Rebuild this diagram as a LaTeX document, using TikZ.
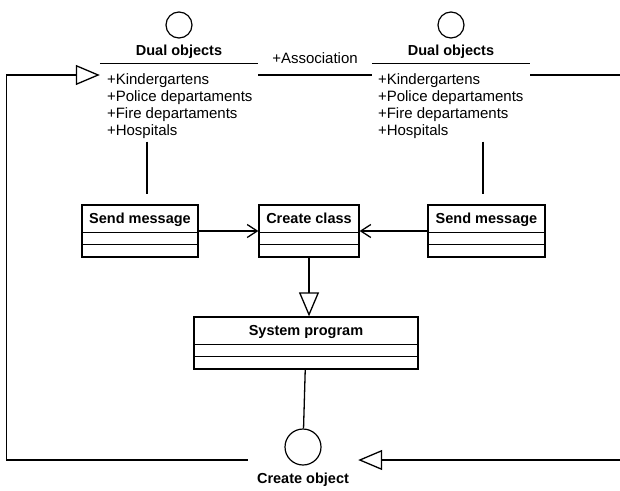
\documentclass[tikz,border=0pt]{standalone}
\usepackage{fontspec}
\setmainfont{Liberation Sans}
\usetikzlibrary{arrows.meta}

\tikzset{
  ln/.style={line width=1.3pt},
  thickln/.style={line width=2.6pt},
  actor/.style={draw, circle, line width=1.2pt, inner sep=0pt},
  classname/.style={font=\fontsize{14.5}{17}\selectfont\bfseries, inner sep=0pt},
  attrs/.style={font=\fontsize{15}{17}\selectfont, align=left, inner sep=0pt},
  classbox/.style={draw, line width=1.3pt, minimum height=52pt, inner sep=0pt},
  msg/.style={ln, -{Straight Barb[length=10pt, width=13pt]}},
  gen/.style={ln, -{Triangle[open, length=24pt, width=20pt, fill=white]}},
}

% class box: name, position, width, title
\newcommand\umlclass[4]{%
  \node[classbox, minimum width=#3] (#1) at (#2) {};
  \node[classname, anchor=base] (#1-name) at ([yshift=-19pt]#1.north) {#4};
  \draw[ln] ([yshift=-28pt]#1.north west) -- ([yshift=-28pt]#1.north east);
  \draw[ln] ([yshift=-40pt]#1.north west) -- ([yshift=-40pt]#1.north east);
}

\begin{document}
\begin{tikzpicture}[x=1pt, y=-1pt]
\clip (0,0) rectangle (620,490);

%% dual objects
\node[actor, minimum size=26pt] (lcirc) at (179,25) {};
\node[actor, minimum size=26pt] (rcirc) at (451,25) {};
\node[classname, anchor=base] (lname) at (179,55) {Dual objects};
\node[classname, anchor=base] (rname) at (451,55) {Dual objects};
\node[minimum width=158pt, minimum height=22pt, inner sep=0pt] (ldual) at (179,75) {};
\node[minimum width=158pt, minimum height=22pt, inner sep=0pt] (rdual) at (451,75) {};
\draw[ln] (ldual.north west) -- (ldual.north east);
\draw[ln] (rdual.north west) -- (rdual.north east);
\node[attrs, anchor=north west] (lattr) at ([shift={(7,9.5)}]ldual.north west)
  {+Kindergartens\\+Police departaments\\+Fire departaments\\+Hospitals};
\node[attrs, anchor=north west] (rattr) at ([shift={(6,9.5)}]rdual.north west)
  {+Kindergartens\\+Police departaments\\+Fire departaments\\+Hospitals};

%% classes
\umlclass{lsend}{140,231}{116pt}{Send message}
\umlclass{cclass}{309,231}{100pt}{Create class}
\umlclass{rsend}{486.5,231}{117pt}{Send message}
\umlclass{sysprog}{306,343}{224pt}{System program}

%% create object
\node[actor, minimum size=36pt] (cobj) at (303,447) {};
\node[classname, anchor=base] (cname) at (303,483) {Create object};
\node[minimum width=110pt, inner sep=0pt] (cport) at (303,460) {};

%%% edges
\draw[ln] (ldual.east) -- (rdual.west)
  node[midway, attrs, anchor=base, yshift=12pt] (assoc) {+Association};

\draw[thickln, shorten <=3pt, shorten >=10pt] ([xshift=7pt]lsend.north |- lattr.south) -- ([xshift=7pt]lsend.north);
\draw[thickln, shorten <=3pt, shorten >=10pt] ([xshift=-3.5pt]rsend.north |- rattr.south) -- ([xshift=-3.5pt]rsend.north);

\draw[msg] (lsend) -- (cclass);
\draw[msg] (rsend) -- (cclass);
\draw[gen] (cclass) -- (cclass |- sysprog.north);
\draw[ln] (sysprog) -- (cobj);

\draw[gen] (cport.west) -| ([xshift=-93pt]ldual.west) -- (ldual.west);
\draw[gen] (rdual.east) -- ++(92,0) |- (cport.east);

\end{tikzpicture}
\end{document}
